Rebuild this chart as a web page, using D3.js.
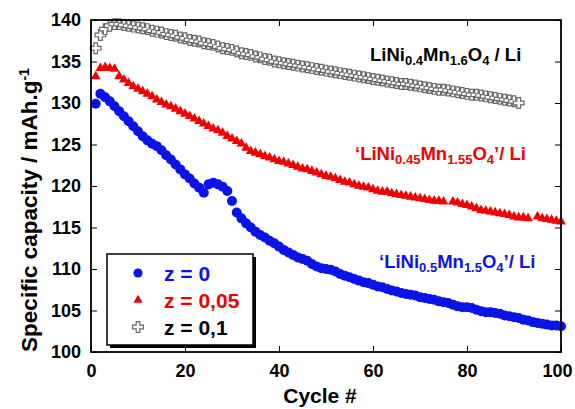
<!DOCTYPE html>
<html>
<head>
<meta charset="utf-8">
<script src="https://cdn.jsdelivr.net/npm/d3@7"></script>
<style>
  html, body { margin: 0; padding: 0; background: #fff; }
  svg { display: block; font-family: "Liberation Sans", Arial, Helvetica, sans-serif; font-weight: bold; }
</style>
</head>
<body>
<svg id="chart" width="575" height="409"></svg>
<script>
// Discharge capacity (mAh/g) versus cycle number for three compositions
const cycles = d3.range(1, 101);

const capZ0 = [
  129.9, 131.1, 130.7, 130.2, 129.6, 129.0, 128.4, 127.8, 127.2, 126.6,
  126.0, 125.5, 125.1, 124.8, 124.3, 123.7, 123.2, 122.6, 122.0, 121.4,
  120.9, 120.3, 119.8, 119.2, 120.2, 120.4, 120.2, 119.9, 119.4, 118.2,
  116.8, 116.1, 115.5, 115.0, 114.5, 114.1, 113.8, 113.4, 113.1, 112.7,
  112.3, 112.0, 111.7, 111.4, 111.2, 111.0, 110.6, 110.3, 110.1, 110.0,
  109.9, 109.7, 109.4, 109.2, 109.0, 108.8, 108.6, 108.4, 108.3, 108.1,
  107.9, 107.8, 107.6, 107.4, 107.3, 107.1, 107.0, 106.9, 106.8, 106.6,
  106.5, 106.4, 106.3, 106.1, 106.0, 105.9, 105.7, 105.5, 105.4, 105.4,
  105.3, 105.1, 104.9, 104.8, 104.8, 104.7, 104.6, 104.4, 104.3, 104.2,
  104.1, 103.9, 103.8, 103.6, 103.5, 103.4, 103.3, 103.2, 103.2, 103.1
];

const capZ005 = [
  133.2, 134.2, 134.3, 134.2, 134.1, 133.2, 132.8, 132.4, 132.0, 131.7,
  131.4, 131.1, 130.8, 130.4, 130.1, 129.8, 129.6, 129.3, 129.0, 128.7,
  128.4, 128.1, 127.8, 127.5, 127.2, 126.9, 126.7, 126.4, 126.0, 125.7,
  125.4, 125.1, 124.6, 124.2, 124.0, 123.8, 123.6, 123.4, 123.2, 123.0,
  122.9, 122.7, 122.5, 122.3, 122.1, 122.0, 121.8, 121.6, 121.4, 121.2,
  121.1, 120.9, 120.7, 120.5, 120.4, 120.2, 120.0, 119.9, 119.8, 119.6,
  119.4, 119.3, 119.3, 119.1, 119.0, 118.9, 118.8, 118.7, 118.6, 118.5,
  118.4, 118.3, 118.2, 118.2, 118.1, null, 118.1, 118.0, 117.8, 117.7,
  117.5, 117.3, 117.1, 117.0, 116.9, 116.8, 116.7, 116.6, 116.5, 116.3,
  116.2, 116.2, 116.1, null, 116.3, 116.1, 116.0, 115.9, 115.8, 115.7
];

const capZ01 = [
  136.6, 138.2, 138.9, 139.3, 139.5, 139.5, 139.4, 139.3, 139.2, 139.1,
  139.0, 138.9, 138.7, 138.6, 138.5, 138.3, 138.2, 138.1, 137.9, 137.8,
  137.6, 137.5, 137.4, 137.2, 137.1, 137.0, 136.8, 136.6, 136.5, 136.4,
  136.2, 136.0, 135.9, 135.8, 135.6, 135.5, 135.3, 135.2, 135.0, 134.9,
  134.8, 134.7, 134.6, 134.5, 134.4, 134.3, 134.2, 134.1, 134.0, 133.9,
  133.8, 133.7, 133.6, 133.5, 133.4, 133.3, 133.2, 133.1, 133.0, 132.9,
  132.8, 132.7, 132.6, 132.5, 132.4, 132.3, 132.3, 132.2, 132.1, 132.0,
  131.9, 131.8, 131.7, 131.6, 131.6, 131.5, 131.4, 131.3, 131.2, 131.1,
  131.0, 131.0, 130.9, 130.8, 130.7, 130.6, 130.5, 130.4, 130.3, 130.2,
  130.0
];

const xTicks = [0, 20, 40, 60, 80, 100];
const yTicks = [100, 105, 110, 115, 120, 125, 130, 135, 140];
const legendLabels = ["z = 0", "z = 0,05", "z = 0,1"];

const BLUE = "#0a14e6", RED = "#f00000", GREY = "#666666";

const svg = d3.select("#chart");
const m = { left: 91, right: 561, top: 20, bottom: 352 };

const x = d3.scaleLinear().domain([0, 100]).range([m.left, m.right]);
const y = d3.scaleLinear().domain([100, 140]).range([m.bottom, m.top]);

const toPts = arr => arr.map((v, i) => ({ c: cycles[i], v })).filter(d => d.v != null);

const crossPath = d3.symbol(d3.symbolCross, 64)();
const triPath = d3.symbol(d3.symbolTriangle, 42)();

// points
const gData = svg.append("g");

gData.append("g").selectAll("path")
  .data(toPts(capZ01)).join("path")
  .attr("d", crossPath)
  .attr("transform", d => `translate(${x(d.c)},${y(d.v)})`)
  .attr("fill", "#fff").attr("stroke", GREY).attr("stroke-width", 1.2);

gData.append("g").selectAll("path")
  .data(toPts(capZ005)).join("path")
  .attr("d", triPath)
  .attr("transform", d => `translate(${x(d.c)},${y(d.v)})`)
  .attr("fill", RED);

gData.append("g").selectAll("circle")
  .data(toPts(capZ0)).join("circle")
  .attr("cx", d => x(d.c)).attr("cy", d => y(d.v)).attr("r", 5)
  .attr("fill", BLUE);

// axes with inward ticks on all four sides
const tickStyle = g => {
  g.select(".domain").remove();
  g.selectAll(".tick line").attr("stroke", "#000").attr("stroke-width", 1);
  g.selectAll(".tick text").attr("font-size", 18).attr("font-weight", "bold")
    .attr("font-family", "Liberation Sans, Arial, sans-serif").attr("fill", "#000");
};

const xAxisG = svg.append("g").attr("transform", `translate(0,${m.bottom})`)
  .call(d3.axisBottom(x).tickValues(xTicks).tickSizeInner(-6).tickSizeOuter(0).tickPadding(12))
  .call(tickStyle);
// keep the last label inside the page edge
xAxisG.selectAll(".tick text").filter(d => d === 100).attr("dx", -4);

svg.append("g").attr("transform", `translate(0,${m.top})`)
  .call(d3.axisTop(x).tickValues(xTicks).tickSizeInner(-6).tickSizeOuter(0).tickFormat(""))
  .call(tickStyle);
svg.append("g").attr("transform", `translate(${m.left},0)`)
  .call(d3.axisLeft(y).tickValues(yTicks).tickSizeInner(-6).tickSizeOuter(0).tickPadding(10))
  .call(tickStyle);
svg.append("g").attr("transform", `translate(${m.right},0)`)
  .call(d3.axisRight(y).tickValues(yTicks).tickSizeInner(-6).tickSizeOuter(0).tickFormat(""))
  .call(tickStyle);

// frame
svg.append("rect")
  .attr("x", m.left).attr("y", m.top)
  .attr("width", m.right - m.left).attr("height", m.bottom - m.top)
  .attr("fill", "none").attr("stroke", "#000").attr("stroke-width", 1.8);

// axis titles
svg.append("text")
  .attr("x", 320).attr("y", 403)
  .attr("text-anchor", "middle").attr("font-size", 21).text("Cycle #");

const yt = svg.append("text")
  .attr("transform", `translate(37,210) rotate(-90)`)
  .attr("text-anchor", "middle").attr("font-size", 22.5);
yt.append("tspan").text("Specific capacity / mAh.g");
yt.append("tspan").attr("baseline-shift", "super").attr("font-size", 14).text("-1");

// composition annotations with subscripts
function formula(parts, px, py, color) {
  const t = svg.append("text").attr("x", px).attr("y", py)
    .attr("font-size", 18.5).attr("fill", color);
  parts.forEach(p => {
    const s = t.append("tspan").text(p[0]);
    if (p[1]) s.attr("font-size", 13).attr("dy", 4);
    else if (p[2]) s.attr("dy", -4);
  });
}
formula([["LiNi"], ["0.4", 1], ["Mn", 0, 1], ["1.6", 1], ["O", 0, 1], ["4", 1], [" / Li", 0, 1]], 370, 61, "#000");
formula([["\u2018LiNi"], ["0.45", 1], ["Mn", 0, 1], ["1.55", 1], ["O", 0, 1], ["4", 1], ["\u2019/ Li", 0, 1]], 355, 160, RED);
formula([["\u2018LiNi"], ["0.5", 1], ["Mn", 0, 1], ["1.5", 1], ["O", 0, 1], ["4", 1], ["\u2019/ Li", 0, 1]], 379, 268, BLUE);

// legend box with drop shadow
const lg = svg.append("g");
lg.append("rect").attr("x", 110).attr("y", 257).attr("width", 146).attr("height", 91).attr("fill", "#000");
lg.append("rect").attr("x", 107).attr("y", 254).attr("width", 146).attr("height", 91)
  .attr("fill", "#fff").attr("stroke", "#000").attr("stroke-width", 1.5);

const legendColors = [BLUE, RED, "#000"];
legendLabels.forEach((lab, i) => {
  const cy = 273 + i * 27;
  if (i === 0) lg.append("circle").attr("cx", 138).attr("cy", cy).attr("r", 4.6).attr("fill", BLUE);
  if (i === 1) lg.append("path").attr("d", d3.symbol(d3.symbolTriangle, 36)())
    .attr("transform", `translate(138,${cy})`).attr("fill", RED);
  if (i === 2) lg.append("path").attr("d", crossPath)
    .attr("transform", `translate(138,${cy})`).attr("fill", "#fff").attr("stroke", GREY).attr("stroke-width", 1.2);
  lg.append("text").attr("x", 164).attr("y", cy + 7.5).attr("font-size", 21)
    .attr("fill", legendColors[i]).text(lab);
});
</script>
</body>
</html>
